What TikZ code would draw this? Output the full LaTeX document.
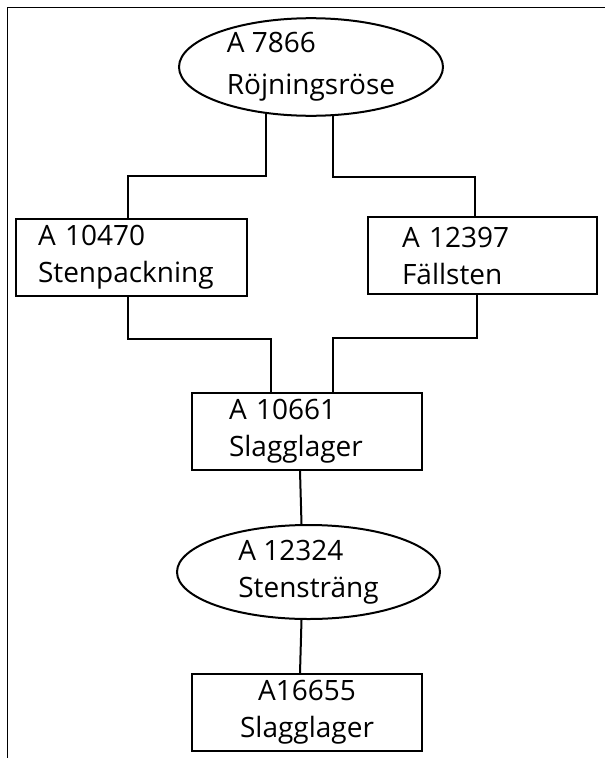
\documentclass[tikz,border=0pt]{standalone}
\usepackage{fontspec}
\setmainfont{Open Sans}
\usetikzlibrary{shapes.geometric}
\tikzstyle{oval}=[ellipse, draw, minimum width=264pt, minimum height=95pt, inner sep=0pt, align=left]
\tikzstyle{kontext}=[rectangle, draw, minimum height=77pt, align=left]

\begin{document}
\begin{tikzpicture}[x=1pt, y=-1pt, line width=2pt, font=\fontsize{28}{37}\selectfont]
    \useasboundingbox (0,0) rectangle (605,758);
    \draw[line width=1pt] (605,7) -- (7,7) -- (7,758);
    \node[oval, font=\fontsize{28}{42}\selectfont] (rose) at (311, 67) {A 7866\\Röjningsröse};
    \node[kontext, text width=187pt, inner xsep=22pt] (stenp) at (131.5, 257) {A 10470\\Stenpackning};
    \node[kontext, text width=161pt, inner xsep=34pt] (fall) at (482.5, 255.5) {A 12397\\Fällsten};
    \node[kontext, text width=156pt, inner xsep=37pt] (slagg) at (307, 431.5) {A 10661\\Slagglager};
    \node[oval, minimum width=263pt, minimum height=94pt] (streng) at (308.5, 572) {A 12324\\Stensträng};
    \node[kontext, text width=200pt, inner xsep=15pt, align=center] (lager) at (307, 712.5) {A16655\\Slagglager};
    \draw (rose.226) -- ++(0,62) -| ([xshift=-4pt]stenp.north);
    \draw (rose.294) -- ++(0,61) -| ([xshift=-8pt]fall.north);
    \draw ([xshift=-4pt]stenp.south) -- ++(0,42) -| ([xshift=-36pt]slagg.north);
    \draw ([xshift=-6pt]fall.south) -- ++(0,43) -| ([xshift=26pt]slagg.north);
    \draw ([xshift=-7pt]slagg.south) -- ([xshift=-7pt]streng.north);
    \draw ([xshift=-7pt]streng.south) -- ([xshift=-7pt]lager.north);
\end{tikzpicture}
\end{document}
